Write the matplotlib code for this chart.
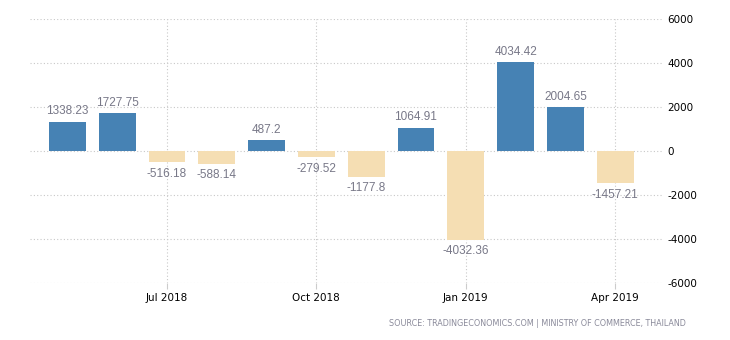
import numpy as np
import matplotlib.pyplot as plt

months = ['May 2018', 'Jun 2018', 'Jul 2018', 'Aug 2018', 'Sep 2018', 'Oct 2018',
          'Nov 2018', 'Dec 2018', 'Jan 2019', 'Feb 2019', 'Mar 2019', 'Apr 2019']
values = [1338.23, 1727.75, -516.18, -588.14, 487.2, -279.52,
          -1177.8, 1064.91, -4032.36, 4034.42, 2004.65, -1457.21]
tick_labels = ['Jul 2018', 'Oct 2018', 'Jan 2019', 'Apr 2019']
y_ticks = [-6000, -4000, -2000, 0, 2000, 4000, 6000]

fig = plt.figure(figsize=(7.3, 3.4), dpi=100)
ax = fig.add_axes([30 / 730, 1 - 283 / 340, 632 / 730, 264 / 340])

x = np.arange(len(values))
colors = ['#4682b4' if v >= 0 else '#f5deb3' for v in values]
ax.bar(x, values, width=0.74, color=colors, zorder=2)

for xi, v in zip(x, values):
    txt = f'{v:g}'
    if v >= 0:
        ax.annotate(txt, (xi, v), xytext=(0, 3), textcoords='offset points',
                    ha='center', va='bottom', fontsize=8.5, color='#787888',
                    family='Liberation Sans', zorder=3)
    else:
        ax.annotate(txt, (xi, v), xytext=(0, -4), textcoords='offset points',
                    ha='center', va='top', fontsize=8.5, color='#787888',
                    family='Liberation Sans', zorder=3)

ax.set_xlim(-0.75, 11.94)
ax.set_ylim(-6000, 6000)
ax.set_xticks([months.index(m) for m in tick_labels])
ax.set_xticklabels(tick_labels, family='DejaVu Sans', fontsize=7.5)
ax.set_yticks(y_ticks)
ax.set_yticklabels([str(t) for t in y_ticks], family='DejaVu Sans', fontsize=7.5)
ax.yaxis.tick_right()
ax.tick_params(axis='y', length=0, pad=4)
ax.tick_params(axis='x', length=4, color='#cccccc', pad=3)

for s in ax.spines.values():
    s.set_visible(False)
ax.grid(True, linestyle=(0, (1, 2)), color='#c8c8c8', linewidth=0.8, zorder=0)

fig.text(686 / 730, 1 - 324 / 340, 'SOURCE: TRADINGECONOMICS.COM | MINISTRY OF COMMERCE, THAILAND',
         ha='right', va='center', fontsize=5.8, color='#8a8a9a', family='DejaVu Sans')

fig.savefig('out.png', dpi=100)
